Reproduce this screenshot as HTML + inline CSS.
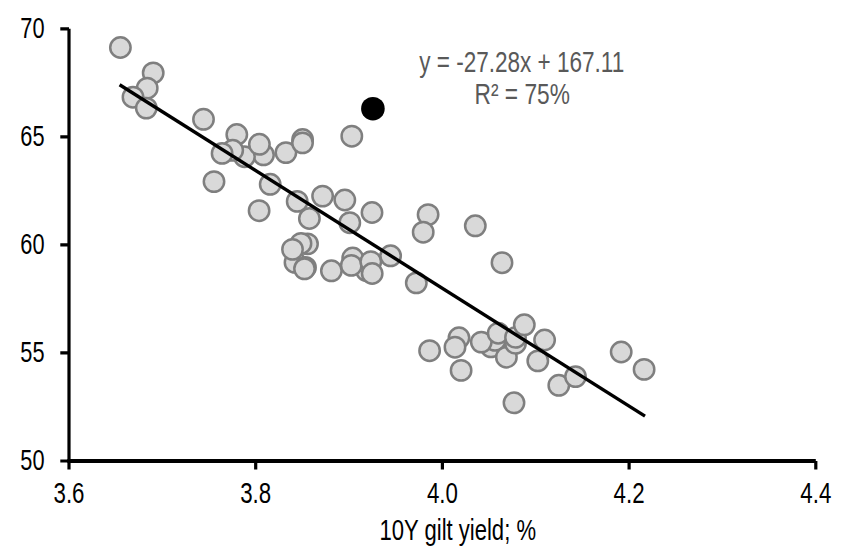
<!DOCTYPE html>
<html><head><meta charset="utf-8"><style>
html,body{margin:0;padding:0;background:#fff;}
body{width:852px;height:551px;overflow:hidden;}
svg{display:block;}
text{font-family:"Liberation Sans",sans-serif;}
</style></head><body>
<svg width="852" height="551" viewBox="0 0 852 551">
<g fill="#d9d9d9" stroke="#7f7f7f" stroke-width="2.5">
<circle cx="120.4" cy="47.5" r="10.2"/>
<circle cx="153.2" cy="72.9" r="10.2"/>
<circle cx="147.2" cy="88.2" r="10.2"/>
<circle cx="133.0" cy="97.2" r="10.2"/>
<circle cx="146.3" cy="108.1" r="10.2"/>
<circle cx="203.5" cy="119.3" r="10.2"/>
<circle cx="236.8" cy="134.5" r="10.2"/>
<circle cx="263.5" cy="154.9" r="10.2"/>
<circle cx="244.5" cy="156.7" r="10.2"/>
<circle cx="232.7" cy="150.3" r="10.2"/>
<circle cx="222.1" cy="153.4" r="10.2"/>
<circle cx="259.4" cy="144.3" r="10.2"/>
<circle cx="285.9" cy="152.6" r="10.2"/>
<circle cx="302.6" cy="139.5" r="10.2"/>
<circle cx="302.5" cy="142.9" r="10.2"/>
<circle cx="214.0" cy="181.6" r="10.2"/>
<circle cx="270.2" cy="184.3" r="10.2"/>
<circle cx="297.2" cy="201.4" r="10.2"/>
<circle cx="322.6" cy="196.1" r="10.2"/>
<circle cx="344.8" cy="200.0" r="10.2"/>
<circle cx="259.1" cy="210.7" r="10.2"/>
<circle cx="309.4" cy="218.5" r="10.2"/>
<circle cx="349.8" cy="222.7" r="10.2"/>
<circle cx="372.0" cy="212.5" r="10.2"/>
<circle cx="351.8" cy="136.2" r="10.2"/>
<circle cx="307.5" cy="243.9" r="10.2"/>
<circle cx="301.0" cy="243.4" r="10.2"/>
<circle cx="295.0" cy="262.4" r="10.2"/>
<circle cx="292.5" cy="249.4" r="10.2"/>
<circle cx="305.5" cy="267.4" r="10.2"/>
<circle cx="304.5" cy="268.8" r="10.2"/>
<circle cx="331.4" cy="270.8" r="10.2"/>
<circle cx="366.5" cy="270.7" r="10.2"/>
<circle cx="352.7" cy="258.0" r="10.2"/>
<circle cx="351.3" cy="265.4" r="10.2"/>
<circle cx="370.8" cy="261.7" r="10.2"/>
<circle cx="372.2" cy="273.5" r="10.2"/>
<circle cx="390.6" cy="255.8" r="10.2"/>
<circle cx="416.3" cy="282.9" r="10.2"/>
<circle cx="428.1" cy="214.6" r="10.2"/>
<circle cx="423.2" cy="232.2" r="10.2"/>
<circle cx="475.3" cy="225.8" r="10.2"/>
<circle cx="502.0" cy="262.7" r="10.2"/>
<circle cx="429.6" cy="350.7" r="10.2"/>
<circle cx="459.0" cy="337.8" r="10.2"/>
<circle cx="455.0" cy="347.2" r="10.2"/>
<circle cx="461.1" cy="370.4" r="10.2"/>
<circle cx="491.0" cy="346.9" r="10.2"/>
<circle cx="495.0" cy="340.4" r="10.2"/>
<circle cx="481.3" cy="342.1" r="10.2"/>
<circle cx="498.2" cy="333.2" r="10.2"/>
<circle cx="506.4" cy="357.2" r="10.2"/>
<circle cx="515.5" cy="343.4" r="10.2"/>
<circle cx="515.5" cy="337.4" r="10.2"/>
<circle cx="524.3" cy="324.8" r="10.2"/>
<circle cx="544.6" cy="340.0" r="10.2"/>
<circle cx="537.8" cy="360.9" r="10.2"/>
<circle cx="514.0" cy="402.8" r="10.2"/>
<circle cx="558.8" cy="385.3" r="10.2"/>
<circle cx="575.5" cy="376.6" r="10.2"/>
<circle cx="621.2" cy="352.0" r="10.2"/>
<circle cx="644.1" cy="369.4" r="10.2"/>
</g>
<circle cx="372.9" cy="108.7" r="11.8" fill="#000"/>
<line x1="119.6" y1="84.7" x2="645" y2="416.1" stroke="#000" stroke-width="3.4" stroke-linecap="butt"/>
<g stroke="#000" stroke-width="3.2" fill="none" stroke-linecap="butt">
<path d="M69 28.8 V461"/><path d="M67.4 460.9 H815.8" stroke-width="4"/>
<path d="M60.3 28.8 H69 M60.3 136.85 H69 M60.3 244.9 H69 M60.3 352.95 H69 M60.3 461 H69"/>
<path d="M69 461 V469.5 M255.7 461 V469.5 M442.4 461 V469.5 M629.1 461 V469.5 M815.8 461 V469.5"/>
</g>
<g font-size="29" fill="#000" text-anchor="end">
<text x="44.5" y="37.7" textLength="24.2" lengthAdjust="spacingAndGlyphs">70</text>
<text x="44.5" y="145.8" textLength="24.2" lengthAdjust="spacingAndGlyphs">65</text>
<text x="44.5" y="253.9" textLength="24.2" lengthAdjust="spacingAndGlyphs">60</text>
<text x="44.5" y="361.9" textLength="24.2" lengthAdjust="spacingAndGlyphs">55</text>
<text x="44.5" y="470" textLength="24.2" lengthAdjust="spacingAndGlyphs">50</text>
</g>
<g font-size="29" fill="#000">
<text x="53.5" y="502.7" textLength="31" lengthAdjust="spacingAndGlyphs">3.6</text>
<text x="240.2" y="502.7" textLength="31" lengthAdjust="spacingAndGlyphs">3.8</text>
<text x="426.9" y="502.7" textLength="31" lengthAdjust="spacingAndGlyphs">4.0</text>
<text x="613.6" y="502.7" textLength="31" lengthAdjust="spacingAndGlyphs">4.2</text>
<text x="800.3" y="502.7" textLength="31" lengthAdjust="spacingAndGlyphs">4.4</text>
<text x="379.5" y="539.8" textLength="156.5" lengthAdjust="spacingAndGlyphs">10Y gilt yield; %</text>
</g>
<g font-size="29" fill="#595959">
<text x="419.2" y="71.8" textLength="205" lengthAdjust="spacingAndGlyphs">y = -27.28x + 167.11</text>
<text x="474.6" y="103.5" textLength="95.3" lengthAdjust="spacingAndGlyphs">R² = 75%</text>
</g>
</svg>
</body></html>
